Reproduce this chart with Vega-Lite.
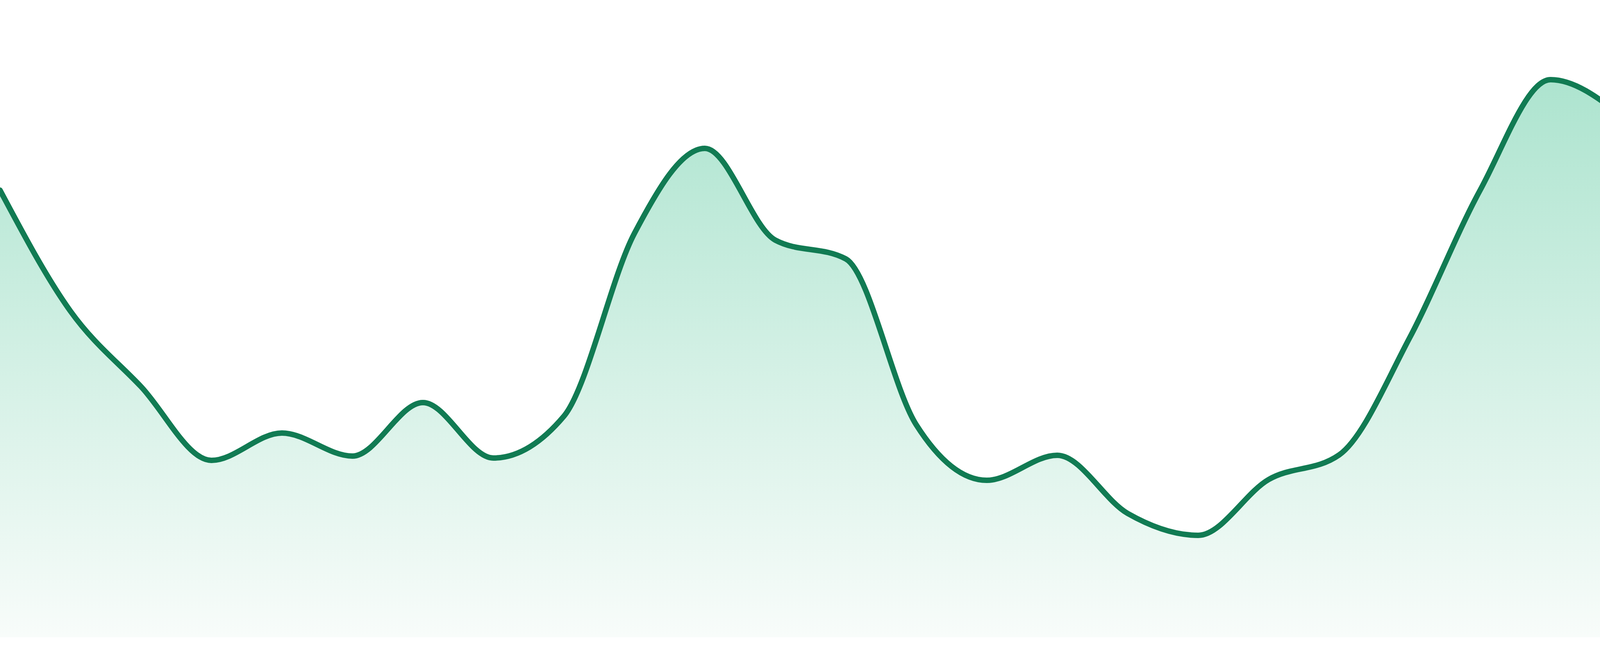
{
  "$schema": "https://vega.github.io/schema/vega-lite/v6.json",
  "width": 4150,
  "height": 1632,
  "autosize": {"type": "none"},
  "padding": {"top": 0, "left": 0, "right": 0, "bottom": 48},
  "background": "#ffffff",
  "config": {"view": {"stroke": null}},
  "data": {
    "values": [
      {"i": 0, "v": 1145},
      {"i": 1, "v": 835},
      {"i": 2, "v": 642},
      {"i": 3, "v": 453},
      {"i": 4, "v": 523},
      {"i": 5, "v": 464},
      {"i": 6, "v": 601},
      {"i": 7, "v": 459},
      {"i": 8, "v": 566},
      {"i": 9, "v": 1034},
      {"i": 10, "v": 1252},
      {"i": 11, "v": 1017},
      {"i": 12, "v": 969},
      {"i": 13, "v": 544},
      {"i": 14, "v": 402},
      {"i": 15, "v": 466},
      {"i": 16, "v": 317},
      {"i": 17, "v": 261},
      {"i": 18, "v": 404},
      {"i": 19, "v": 467},
      {"i": 20, "v": 767},
      {"i": 21, "v": 1145},
      {"i": 22, "v": 1428},
      {"i": 23, "v": 1337}
    ]
  },
  "encoding": {
    "x": {
      "field": "i",
      "type": "quantitative",
      "axis": null,
      "scale": {"domain": [0, 23], "nice": false, "zero": false}
    },
    "y": {
      "field": "v",
      "type": "quantitative",
      "axis": null,
      "scale": {"domain": [0, 1632], "nice": false}
    }
  },
  "layer": [
    {
      "mark": {
        "type": "area",
        "interpolate": "monotone",
        "color": {
          "gradient": "linear",
          "x1": 0, "y1": 0, "x2": 0, "y2": 1,
          "stops": [
            {"offset": 0, "color": "#ade4cf"},
            {"offset": 1, "color": "#f8fcfa"}
          ]
        }
      }
    },
    {
      "mark": {
        "type": "line",
        "interpolate": "monotone",
        "color": "#117b53",
        "strokeWidth": 14,
        "strokeCap": "round",
        "strokeJoin": "round"
      }
    }
  ]
}
